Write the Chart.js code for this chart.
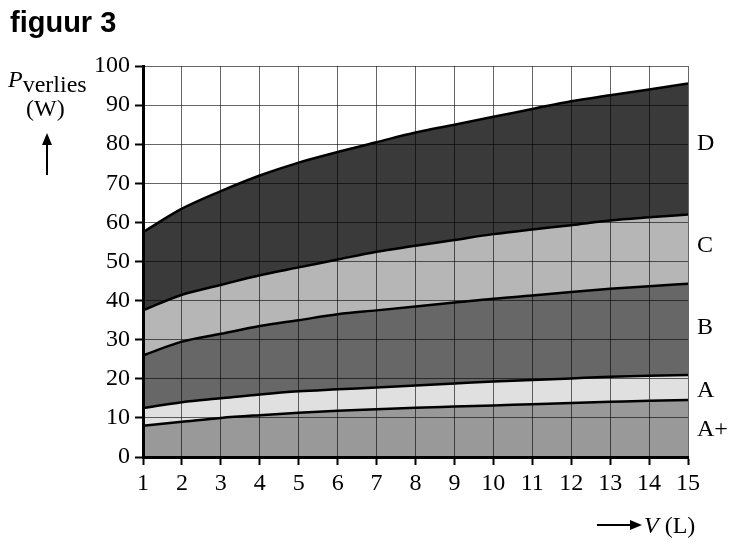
<!DOCTYPE html>
<html>
<head>
<meta charset="utf-8">
<script src="https://cdn.jsdelivr.net/npm/chart.js@4"></script>
<style>
  body { margin: 0; background: #fff; }
  #wrap { position: relative; width: 734px; height: 550px; font-family: "Liberation Serif", serif; color: #000; }
  canvas { position: absolute; left: 0; top: 0; }
  .txt { position: absolute; font-size: 24px; line-height: 1; white-space: nowrap; }
  #title { left: 10px; top: 8px; font-family: "Liberation Sans", Arial, sans-serif; font-weight: bold; font-size: 29px; }
  .vline { position: absolute; background: #000; }
  .head-up { position: absolute; width: 0; height: 0; border-left: 5px solid transparent; border-right: 5px solid transparent; border-bottom: 12px solid #000; }
  .head-right { position: absolute; width: 0; height: 0; border-top: 5px solid transparent; border-bottom: 5px solid transparent; border-left: 12px solid #000; }
</style>
</head>
<body>
<div id="wrap">
  <canvas id="chart" width="734" height="550"></canvas>
  <div id="title" class="txt">figuur 3</div>
  <div class="txt" style="left:8px; top:67px;"><i>P</i><span style="position:relative; top:5px;">verlies</span></div>
  <div class="txt" style="left:26px; top:96px;">(W)</div>
  <div class="vline" style="left:46px; top:142px; width:2px; height:33px;"></div>
  <div class="head-up" style="left:42px; top:133px;"></div>
  <div class="vline" style="left:597px; top:524px; width:34px; height:2px;"></div>
  <div class="head-right" style="left:630px; top:520px;"></div>
  <div class="txt" style="left:644px; top:513px;"><i>V</i> (L)</div>
</div>
<script>
const volumes = [1, 2, 3, 4, 5, 6, 7, 8, 9, 10, 11, 12, 13, 14, 15];
const classNames = ["A+", "A", "B", "C", "D"];
const limitAplus = [8, 9, 10, 10.7, 11.3, 11.8, 12.2, 12.6, 12.9, 13.2, 13.5, 13.8, 14.1, 14.4, 14.6];
const limitA = [12.5, 14, 15, 16, 16.8, 17.3, 17.8, 18.3, 18.8, 19.3, 19.7, 20.1, 20.5, 20.8, 21];
const limitB = [26, 29.5, 31.5, 33.5, 35, 36.5, 37.5, 38.5, 39.5, 40.5, 41.3, 42.2, 43, 43.7, 44.3];
const limitC = [37.5, 41.5, 44, 46.5, 48.5, 50.5, 52.5, 54, 55.5, 57, 58.2, 59.3, 60.5, 61.3, 62];
const limitD = [57.5, 63.5, 68, 72, 75.3, 78, 80.5, 83, 85, 87, 89, 91, 92.5, 94, 95.5];
const labelValues = [7, 17, 33, 54, 80];

const fills = ["#999999", "#e0e0e0", "#676767", "#b6b6b6", "#3a3a3a"];
const limits = [limitAplus, limitA, limitB, limitC, limitD];

const datasets = limits.map((vals, i) => ({
  label: classNames[i],
  data: vals.map((v, j) => ({ x: volumes[j], y: v })),
  borderColor: "#000",
  borderWidth: 2.5,
  backgroundColor: fills[i],
  fill: i === 0 ? "origin" : "-1",
  pointRadius: 0,
  cubicInterpolationMode: "monotone",
}));

const classLabels = {
  id: "classLabels",
  afterDraw(chart) {
    const ctx = chart.ctx;
    const yScale = chart.scales.y;
    ctx.save();
    ctx.fillStyle = "#000";
    ctx.font = "24px 'Liberation Serif'";
    ctx.textBaseline = "middle";
    ctx.textAlign = "left";
    classNames.forEach((name, i) => {
      ctx.fillText(name, chart.chartArea.right + 9, yScale.getPixelForValue(labelValues[i]));
    });
    ctx.restore();
  },
};

const tickFont = { family: "Liberation Serif", size: 24 };
const gridOpts = { z: 1, color: "rgba(0,0,0,0.6)", lineWidth: 1, tickColor: "#000", tickWidth: 2, tickLength: 8 };

const config = {
  type: "line",
  data: { datasets: datasets },
  options: {
    responsive: false,
    animation: false,
    events: [],
    layout: { padding: { top: 66, right: 46, left: 0, bottom: 0 } },
    plugins: {
      legend: { display: false },
      tooltip: { enabled: false },
    },
    scales: {
      x: {
        type: "linear",
        min: 1,
        max: 15,
        z: 2,
        ticks: { stepSize: 1, color: "#000", font: tickFont, padding: 4, maxRotation: 0 },
        grid: gridOpts,
        border: { z: 2, color: "#000", width: 3 },
        afterFit: (s) => { s.height = 550 - 457; },
      },
      y: {
        min: 0,
        max: 100,
        z: 2,
        ticks: { stepSize: 10, color: "#000", font: tickFont, padding: 5 },
        grid: gridOpts,
        border: { z: 2, color: "#000", width: 3 },
        afterFit: (s) => { s.width = 143; },
      },
    },
  },
  plugins: [classLabels],
};

new Chart(document.getElementById("chart"), config);
</script>
</body>
</html>
